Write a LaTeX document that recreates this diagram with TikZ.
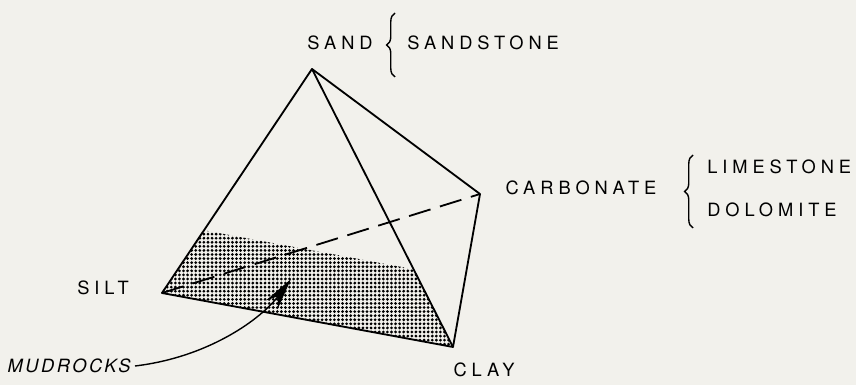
\documentclass[tikz,border=0pt]{standalone}
\usepackage{fontspec}
\setmainfont[LetterSpace=27]{TeX Gyre Heros}
\newfontfamily\mudfont[LetterSpace=14]{TeX Gyre Heros}
\usetikzlibrary{arrows.meta,patterns,calc,decorations.pathreplacing}
\definecolor{paper}{RGB}{242,241,236}
\pgfdeclarepatternformonly{stipple}{\pgfqpoint{-1.2pt}{-1.2pt}}{\pgfqpoint{1.2pt}{1.2pt}}{\pgfqpoint{2.9pt}{2.9pt}}{%
  \pgfpathcircle{\pgfqpoint{0pt}{0pt}}{1.1pt}\pgfusepath{fill}}
\begin{document}
\begin{tikzpicture}[x=0.025cm,y=-0.025cm,
  edge/.style={line width=1.3pt,line join=round},
  lab/.style={font=\fontsize{13}{15}\selectfont,inner sep=0pt},
  brc/.style={decorate,decoration={brace,amplitude=6pt},line width=1pt}]
  \fill[paper] (0,0) rectangle (856,385);
  \coordinate (sand) at (312,69);
  \coordinate (carb) at (480,194);
  \coordinate (silt) at (162,293);
  \coordinate (clay) at (453,347);
  \coordinate (shl) at ($(sand)!0.72!(silt)$);
  \coordinate (shr) at ($(sand)!0.72!(clay)$);
  \fill[pattern=stipple,pattern color=black] (silt) -- (shl) -- (shr) -- (clay) -- cycle;
  \draw[edge] (silt) -- (sand) -- (clay) -- cycle;
  \draw[edge] (sand) -- (carb) -- (clay);
  \draw[edge,dash pattern=on 16pt off 7pt] (silt) -- (carb);
  \node[lab] (sandlab) at (340,43) {SAND};
  \draw[brc] (395,77) -- (395,13);
  \node[lab,anchor=west] (sandst) at (407,43) {SANDSTONE};
  \node[lab] (carblab) at (581,188) {CARBONATE};
  \draw[brc] (693,228) -- (693,155);
  \node[lab,anchor=west] (lime) at (707,167) {LIMESTONE};
  \node[lab,anchor=west] (dolo) at (707,210) {DOLOMITE};
  \node[lab] (siltlab) at (103,288) {SILT};
  \node[lab] (claylab) at (484,370) {CLAY};
  \node[lab,font=\fontsize{13}{15}\mudfont\itshape] (mud) at (69,366) {MUDROCKS};
  \coordinate (mudtip) at (291,279);
  \draw[line width=1pt,-{Stealth[length=8mm,width=3.6mm]}] ([xshift=3pt]mud.east) .. controls (210,357) and (262,318) .. (mudtip);
\end{tikzpicture}
\end{document}
